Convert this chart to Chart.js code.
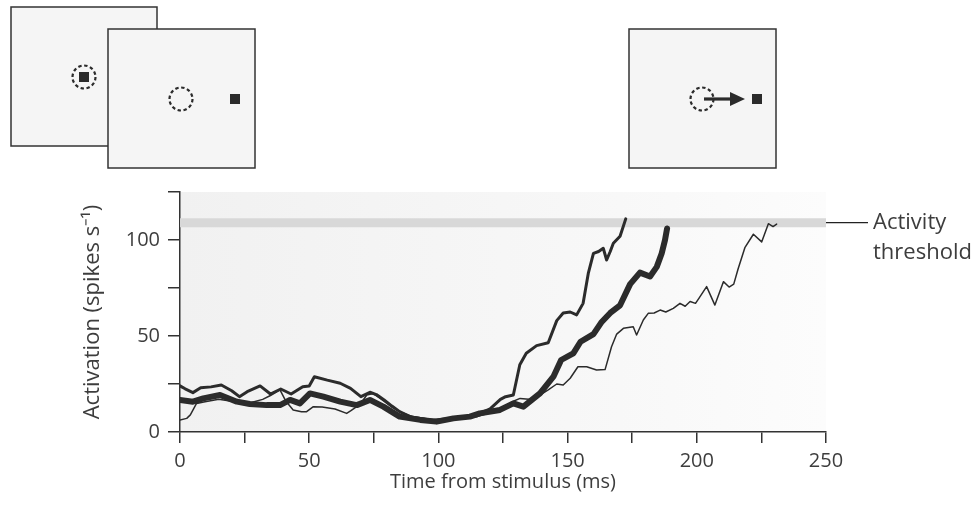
<!DOCTYPE html>
<html>
<head>
<meta charset="utf-8">
<script src="https://cdn.jsdelivr.net/npm/chart.js@4.4.0/dist/chart.umd.min.js"></script>
<style>
  html, body { margin: 0; padding: 0; background: #fff; }
  #wrap { position: relative; width: 972px; height: 514px; }
</style>
</head>
<body>
<div id="wrap"><canvas id="activation" width="972" height="514"></canvas></div>
<script>
// threshold level (spikes/s)
const thresholdLevel = 109;

// fastest trace (medium line)
const timesA = [0, 2, 5, 8, 12, 16, 20, 23, 26, 31, 35, 39, 43, 47.5, 50, 52, 57, 62, 66, 70, 73.5, 76, 79, 82, 85, 89, 93, 97, 101, 105, 109, 113, 116, 120, 124, 126, 129, 131.5, 134, 138, 142.5, 145.8, 148.3, 151, 153.5, 156, 158, 160, 162, 163.8, 165.1, 166.5, 167.7, 170.3, 172.5];
const valuesA = [24, 22.5, 20.5, 23, 23.5, 24.5, 21.5, 18.4, 21, 24, 19.8, 22.4, 19.8, 23.6, 24, 28.8, 27, 25.4, 22.7, 18.4, 20.7, 19.5, 16.7, 13.5, 10.6, 8, 7, 6, 6.5, 7, 7.5, 8.5, 9.7, 12, 17, 18.4, 19.3, 35, 41, 45, 46.5, 58, 62, 62.5, 61, 67, 82.6, 93, 94, 95.7, 89.6, 94, 98.3, 102, 111];

// middle trace (thick line)
const timesB = [0, 5, 9, 15.5, 22, 27, 33.5, 38.7, 42.6, 46.4, 50.3, 55.5, 62, 68.4, 73.5, 78.7, 85, 93, 99.3, 105.8, 112.2, 116, 123.8, 129, 132.9, 139.3, 144.5, 147.5, 152.2, 155, 160, 163, 166.5, 170.3, 174.2, 178, 181.9, 184.5, 186.4, 187.7, 188.5];
const valuesB = [16.7, 15.8, 17.5, 19.3, 15.8, 14.6, 14, 14, 16.7, 14.9, 20.1, 18.4, 15.8, 14, 16.7, 13.2, 8, 6.3, 5.4, 7.1, 8, 9.7, 11.5, 14.9, 13.2, 20.1, 28.8, 37.5, 41, 47, 51, 57, 62, 66, 77, 83, 81, 86, 93, 100, 106];

// slowest trace (thin line)
const timesC = [0, 2.6, 4, 6.4, 9.7, 15, 20, 24, 28, 32, 35, 38.7, 41, 43.8, 47, 49, 51.6, 55, 60, 64.5, 66, 68.4, 70.9, 72.3, 74.8, 78, 82, 86, 90, 95, 100, 105, 110, 115, 120, 125, 129, 131.6, 135, 139, 142.5, 145.8, 148.3, 151, 154, 157.4, 161.2, 164.5, 167, 169, 171.6, 175.4, 176.7, 179.3, 181.2, 183.5, 185.8, 188, 190.9, 193.5, 195.5, 197.4, 199.5, 201, 203.8, 207, 210.3, 212.5, 214.3, 216, 218.6, 221.9, 225.1, 227.7, 229.5, 230.9];
const valuesC = [6.3, 7.1, 8.9, 14.9, 15.8, 17, 16, 15, 15.5, 17, 19, 21.9, 16, 11.5, 10.6, 10.6, 13.2, 13, 12, 9.7, 11, 13.2, 16.7, 19.3, 20, 17, 13, 10, 8, 7, 6, 6.5, 7.5, 8, 10, 13, 16, 17.5, 17, 19, 22, 25, 24.5, 28, 34, 34, 32.3, 32.5, 44.4, 51, 54, 54.8, 50.5, 58.3, 61.8, 62, 63.5, 62.5, 64.4, 67, 65.5, 68, 67, 70, 75.7, 66.1, 78.3, 75.5, 77, 85, 96, 103, 99, 108.5, 107, 108.3];

const xTicks = [0, 50, 100, 150, 200, 250];
const yTicks = [0, 50, 100];

function pairs(xs, ys) {
  return xs.map((x, i) => ({ x: x, y: ys[i] }));
}

const ink = '#2b2b2b';
const textColor = '#3d3d3d';
const fontFamily = '"Open Sans", "Liberation Sans", Arial, sans-serif';

// grey plot background, a bit darker to the left
const plotBackground = {
  id: 'plotBackground',
  beforeDraw(chart) {
    const { ctx, chartArea: a } = chart;
    const g = ctx.createLinearGradient(a.left, 0, a.right, 0);
    g.addColorStop(0, '#f1f1f1');
    g.addColorStop(0.6, '#f7f7f7');
    g.addColorStop(1, '#fcfcfc');
    ctx.save();
    ctx.fillStyle = g;
    ctx.fillRect(a.left, a.top, a.right - a.left, a.bottom - a.top);
    ctx.restore();
  }
};

function dashedCircle(ctx, cx, cy) {
  ctx.save();
  ctx.setLineDash([3.4, 2.6]);
  ctx.lineWidth = 2.2;
  ctx.strokeStyle = ink;
  ctx.beginPath();
  ctx.arc(cx, cy, 11.5, 0, Math.PI * 2);
  ctx.stroke();
  ctx.restore();
}

function panel(ctx, x, y, w, h) {
  ctx.fillStyle = '#f5f5f5';
  ctx.fillRect(x, y, w, h);
  ctx.lineWidth = 1.5;
  ctx.strokeStyle = '#333';
  ctx.strokeRect(x, y, w, h);
}

// stimulus sketches above the plot + threshold label
const annotations = {
  id: 'annotations',
  afterDraw(chart) {
    const { ctx, chartArea: a, scales } = chart;
    ctx.save();

    panel(ctx, 11, 7, 146, 139);
    dashedCircle(ctx, 84, 77);
    ctx.fillStyle = ink;
    ctx.fillRect(79, 72, 10, 10);

    panel(ctx, 108, 29, 147, 139);
    dashedCircle(ctx, 181, 99);
    ctx.fillStyle = ink;
    ctx.fillRect(230, 94, 10, 10);

    panel(ctx, 629, 29, 147, 139);
    dashedCircle(ctx, 702, 99);
    ctx.strokeStyle = ink;
    ctx.lineWidth = 3.2;
    ctx.beginPath();
    ctx.moveTo(704, 99);
    ctx.lineTo(733, 99);
    ctx.stroke();
    ctx.fillStyle = ink;
    ctx.beginPath();
    ctx.moveTo(745, 99);
    ctx.lineTo(730, 92);
    ctx.lineTo(730, 106);
    ctx.closePath();
    ctx.fill();
    ctx.fillRect(752, 94, 10, 10);

    const ty = scales.y.getPixelForValue(thresholdLevel);
    ctx.strokeStyle = '#222';
    ctx.lineWidth = 1.2;
    ctx.beginPath();
    ctx.moveTo(a.right, ty);
    ctx.lineTo(a.right + 42, ty);
    ctx.stroke();
    ctx.fillStyle = textColor;
    ctx.font = '22px ' + fontFamily;
    ctx.textAlign = 'left';
    ctx.textBaseline = 'middle';
    ctx.fillText('Activity', a.right + 47, ty);
    ctx.fillText('threshold', a.right + 47, ty + 30);
    ctx.restore();
  }
};

const lineStyle = { borderColor: ink, pointRadius: 0, tension: 0, borderJoinStyle: 'round', borderCapStyle: 'round', fill: false };

const config = {
  type: 'line',
  data: {
    datasets: [
      Object.assign({ label: 'fast', data: pairs(timesA, valuesA), borderWidth: 3, order: 2 }, lineStyle),
      Object.assign({ label: 'middle', data: pairs(timesB, valuesB), borderWidth: 6, order: 1 }, lineStyle),
      Object.assign({ label: 'slow', data: pairs(timesC, valuesC), borderWidth: 1.5, order: 3 }, lineStyle),
      {
        label: 'threshold',
        data: pairs([0, 250], [thresholdLevel, thresholdLevel]),
        borderColor: '#d8d8d8',
        borderWidth: 9,
        borderCapStyle: 'butt',
        pointRadius: 0,
        order: 10
      }
    ]
  },
  options: {
    responsive: false,
    animation: false,
    layout: { padding: { left: 80, right: 146, top: 192, bottom: 20 } },
    plugins: { legend: { display: false }, tooltip: { enabled: false } },
    scales: {
      x: {
        type: 'linear',
        min: 0,
        max: 250,
        afterFit(scale) { scale.height = 62; },
        afterBuildTicks(scale) {
          const t = [];
          for (let v = 0; v <= 250; v += 25) t.push({ value: v });
          scale.ticks = t;
        },
        ticks: {
          color: textColor,
          font: { family: fontFamily, size: 20 },
          padding: 6,
          maxRotation: 0,
          callback: (v) => xTicks.includes(v) ? String(v) : ''
        },
        grid: { drawOnChartArea: false, drawTicks: true, tickLength: 11, color: '#333', lineWidth: 1.5 },
        border: { display: true, color: '#333', width: 1.5 },
        title: {
          display: true,
          text: 'Time from stimulus (ms)',
          color: textColor,
          font: { family: fontFamily, size: 20 },
          padding: 0
        }
      },
      y: {
        type: 'linear',
        min: 0,
        max: 125,
        afterFit(scale) { scale.width = 100; },
        afterBuildTicks(scale) {
          const t = [];
          for (let v = 0; v <= 125; v += 25) t.push({ value: v });
          scale.ticks = t;
        },
        ticks: {
          color: textColor,
          font: { family: fontFamily, size: 20 },
          padding: 8,
          callback: (v) => yTicks.includes(v) ? String(v) : ''
        },
        grid: { drawOnChartArea: false, drawTicks: true, tickLength: 12, color: '#333', lineWidth: 1.5 },
        border: { display: true, color: '#333', width: 1.5 },
        title: {
          display: true,
          text: 'Activation (spikes s\u207B\u00B9)',
          color: textColor,
          font: { family: fontFamily, size: 22 },
          padding: 0
        }
      }
    }
  },
  plugins: [plotBackground, annotations]
};

const activationCtx = document.getElementById('activation');
window.activationChart = new Chart(activationCtx, config);
</script>
</body>
</html>
